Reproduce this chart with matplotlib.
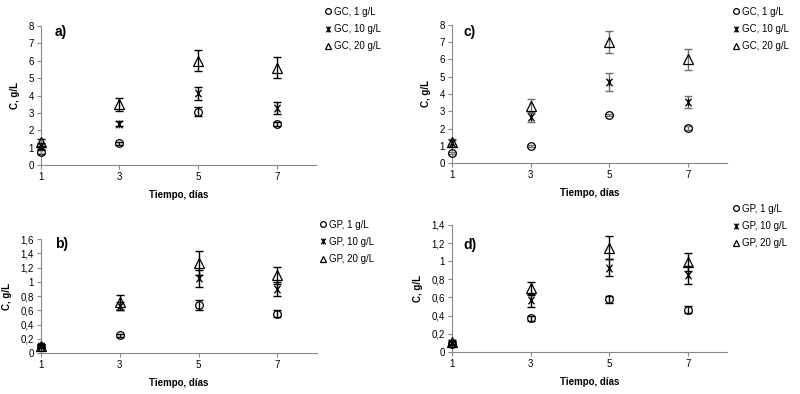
import numpy as np
import matplotlib.pyplot as plt
from matplotlib.path import Path
from matplotlib.ticker import FuncFormatter

plt.rcParams['font.family'] = ['Liberation Sans', 'DejaVu Sans']

dias = [1, 3, 5, 7]

# a) GC
gc_a_1 = [0.78, 1.25, 3.08, 2.36]
gc_a_1_err = [0.12, 0.1, 0.28, 0.1]
gc_a_10 = [1.08, 2.38, 4.12, 3.3]
gc_a_10_err = [0.2, 0.15, 0.35, 0.35]
gc_a_20 = [1.3, 3.5, 6.0, 5.6]
gc_a_20_err = [0.2, 0.38, 0.6, 0.6]

# c) GC
gc_c_1 = [0.6, 1.0, 2.8, 2.02]
gc_c_1_err = [0.06, 0.06, 0.05, 0.12]
gc_c_10 = [1.15, 2.68, 4.7, 3.52]
gc_c_10_err = [0.2, 0.3, 0.5, 0.35]
gc_c_20 = [1.25, 3.32, 7.0, 6.0]
gc_c_20_err = [0.12, 0.4, 0.65, 0.6]

# b) GP
gp_b_1 = [0.09, 0.25, 0.68, 0.55]
gp_b_1_err = [0.02, 0.02, 0.07, 0.05]
gp_b_10 = [0.1, 0.66, 1.05, 0.9]
gp_b_10_err = [0.02, 0.06, 0.12, 0.1]
gp_b_20 = [0.1, 0.71, 1.26, 1.09]
gp_b_20_err = [0.02, 0.11, 0.17, 0.12]

# d) GP
gp_d_1 = [0.09, 0.37, 0.58, 0.465]
gp_d_1_err = [0.02, 0.03, 0.04, 0.04]
gp_d_10 = [0.1, 0.57, 0.93, 0.85]
gp_d_10_err = [0.02, 0.07, 0.09, 0.1]
gp_d_20 = [0.11, 0.7, 1.15, 0.99]
gp_d_20_err = [0.02, 0.07, 0.13, 0.1]

# "Ж" style star marker
star = Path([(0, -1), (0, 1), (-0.8, -1), (0.8, 1), (-0.8, 1), (0.8, -1)],
            [Path.MOVETO, Path.LINETO, Path.MOVETO, Path.LINETO, Path.MOVETO, Path.LINETO])

comma = FuncFormatter(lambda v, p: ('%g' % round(v, 2)).replace('.', ','))

fig = plt.figure(figsize=(8, 3.94), dpi=100)

panels = [
    ([0.051, 0.581, 0.344, 0.353], 'a)', (0.05, 0.955), 'GC', 8, 1,
     [(gc_a_1, gc_a_1_err), (gc_a_10, gc_a_10_err), (gc_a_20, gc_a_20_err)], 'black', (0.398, 1.0)),
    ([0.565, 0.586, 0.344, 0.351], 'c)', (0.04, 0.95), 'GC', 8, 1,
     [(gc_c_1, gc_c_1_err), (gc_c_10, gc_c_10_err), (gc_c_20, gc_c_20_err)], '#707070', (0.908, 1.0)),
    ([0.051, 0.104, 0.345, 0.289], 'b)', (0.05, 0.96), 'GP', 1.6, 0.2,
     [(gp_b_1, gp_b_1_err), (gp_b_10, gp_b_10_err), (gp_b_20, gp_b_20_err)], 'black', (0.392, 0.46)),
    ([0.565, 0.107, 0.344, 0.322], 'd)', (0.04, 0.84), 'GP', 1.4, 0.2,
     [(gp_d_1, gp_d_1_err), (gp_d_10, gp_d_10_err), (gp_d_20, gp_d_20_err)], 'black', (0.908, 0.50)),
]

markers = ['o', star, '^']
conc = ['1 g/L', '10 g/L', '20 g/L']

for rect, letra, letpos, gas, ymax, ystep, series, ecol, legpos in panels:
    ax = fig.add_axes(rect)
    handles = []
    for (vals, errs), m, c in zip(series, markers, conc):
        eb = ax.errorbar(dias, vals, yerr=errs, fmt='none', ecolor=ecol, elinewidth=1.0,
                         capsize=3, capthick=1.0)
        for art in eb.lines[1] + eb.lines[2]:
            art.set_clip_on(False)
        h, = ax.plot(dias, vals, linestyle='none', marker=m, markersize=5.5 if m != '^' else 6.5,
                     markerfacecolor='none', markeredgecolor='black', markeredgewidth=0.9,
                     label='%s, %s' % (gas, c), clip_on=False, zorder=3)
        handles.append(h)
    ax.set_xlim(1, 8)
    ax.set_ylim(0, ymax)
    ax.set_xticks(dias)
    ax.set_yticks(np.arange(0, ymax + ystep / 2, ystep))
    ax.yaxis.set_major_formatter(comma)
    ax.spines['top'].set_visible(False)
    ax.spines['right'].set_visible(False)
    ax.spines['left'].set_color('#888888')
    ax.spines['bottom'].set_color('#888888')
    ax.tick_params(labelsize=7, length=3, color='#888888', pad=2)
    ax.set_xlabel('Tiempo, días', fontsize=7, fontweight='bold', labelpad=6)
    ax.set_ylabel('C, g/L', fontsize=7, fontweight='bold', labelpad=6)
    ax.text(letpos[0], letpos[1], letra, transform=ax.transAxes, fontsize=10, fontweight='bold',
            ha='left', va='center')
    fig.legend(handles=handles, loc='upper left', bbox_to_anchor=legpos,
               frameon=False, fontsize=7, handlelength=0.6, handletextpad=0.3,
               labelspacing=0.75, borderaxespad=0.3, markerscale=0.75)

plt.savefig('out.png', dpi=100)
